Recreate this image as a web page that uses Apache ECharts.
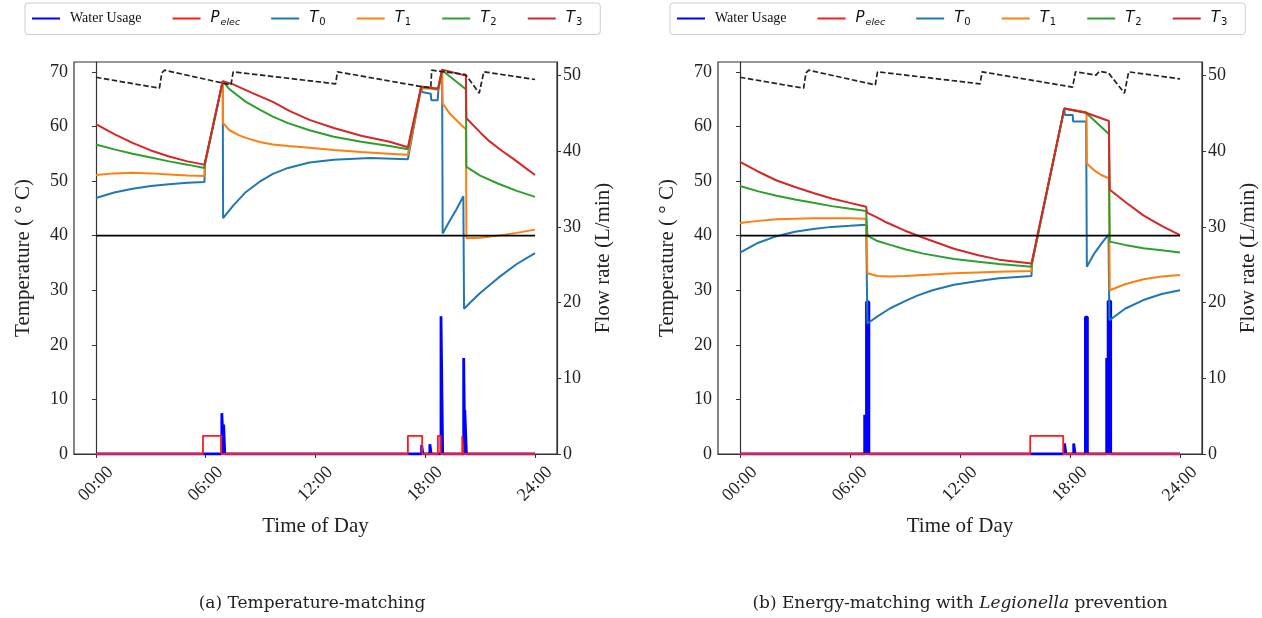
<!DOCTYPE html>
<html><head><meta charset="utf-8">
<script src="https://cdn.jsdelivr.net/npm/echarts@6/dist/echarts.min.js"></script>
<style>html,body{margin:0;padding:0;background:#fff}#c{width:1262px;height:618px}</style>
</head><body><div id="c"></div>
<script>
// ---------- tick definitions ----------
const hourTicks = [0, 6, 12, 18, 24];
const hourLabels = ['00:00', '06:00', '12:00', '18:00', '24:00'];
const tempTicks = [0, 10, 20, 30, 40, 50, 60, 70];
const flowTicks = [0, 10, 20, 30, 40, 50];
const legendNames = ['Water Usage', 'P_elec', 'T0', 'T1', 'T2', 'T3'];
const captions = ['(a) Temperature-matching', '(b) Energy-matching with {i|Legionella} prevention'];

// ---------- panel (a): Temperature-matching ----------
// [hour, °C]
const T0_a = [[0,46.9],[1,47.9],[2,48.6],[3,49.1],[4,49.4],[5,49.7],[5.93,49.8],[5.96,53.2],[6.93,68.3],[6.95,43.2],[7.5,45.5],[8.2,48.0],[9,50.0],[9.67,51.3],[10.5,52.4],[11.67,53.4],[13,53.9],[15,54.2],[17.05,54.0],[17.78,67.3],[17.82,66.3],[18.3,66.0],[18.33,64.8],[18.68,64.8],[18.72,66.8],[18.92,70.3],[18.95,40.4],[19.3,42.5],[19.7,44.8],[20.08,47.2],[20.12,26.6],[20.5,27.9],[21,29.5],[22,32.3],[23,34.8],[24,36.8]];
const T1_a = [[0,51.1],[1,51.4],[2,51.5],[3,51.4],[4,51.2],[5,51.0],[5.93,50.9],[5.96,53.2],[6.93,68.3],[6.95,60.6],[7.3,59.3],[7.8,58.4],[8.2,57.9],[9,57.1],[9.67,56.7],[10.5,56.4],[11.67,56.1],[13,55.7],[14.5,55.3],[16,55.0],[17.05,54.8],[17.78,67.0],[18.3,66.9],[18.7,66.7],[18.92,70.3],[18.95,64.2],[19.33,62.4],[19.8,60.8],[20.22,59.5],[20.25,39.5],[21,39.6],[22,40.0],[23,40.5],[24,41.1]];
const T2_a = [[0,56.7],[1,55.8],[2,55.0],[3,54.3],[4,53.6],[5,53.0],[5.93,52.4],[5.96,53.2],[6.93,68.3],[7.3,66.8],[8.2,64.5],[9,63.0],[9.67,61.8],[10.5,60.6],[11.67,59.3],[13,58.1],[14.5,57.2],[16.05,56.4],[17.05,55.8],[17.78,67.2],[18.7,66.9],[18.92,70.3],[20.22,66.8],[20.25,52.6],[21,51.0],[22,49.5],[23,48.2],[24,47.1]];
const T3_a = [[0,60.4],[1,58.6],[2,57.0],[3,55.6],[4,54.5],[5,53.6],[5.93,53.0],[6.93,68.3],[7.5,67.7],[8.5,66.2],[9.67,64.5],[10.6,62.8],[11.67,61.2],[13,59.7],[14.5,58.3],[16.05,57.2],[17.05,56.2],[17.78,67.3],[18.7,66.9],[18.92,70.4],[20.22,69.3],[20.25,61.5],[21,58.9],[21.5,57.3],[22.2,55.5],[22.8,54.1],[23.4,52.6],[24,51.1]];
const dash_a = [[0,69.0],[3.47,67.0],[3.6,69.8],[3.75,70.3],[7.38,67.6],[7.5,70.0],[7.6,70.3],[13.1,67.8],[13.2,70.0],[13.3,70.3],[17.78,67.3],[18.3,67.1],[18.35,70.3],[20.2,69.5],[20.95,66.1],[21.2,70.0],[21.3,70.3],[24,68.6]];
// water usage pulses [start hour, end hour, L/min]
const water_a = [[6.88,6.98,5.4],[6.98,7.04,3.9],[17.8,17.87,1.2],[18.25,18.32,1.3],[18.86,18.95,18.2],[20.1,20.16,12.7],[20.16,20.25,5.8]];
// electric heating pulses [start hour, end hour, level]
const pelec_a = [[5.85,6.85,2.4],[17.05,17.83,2.4],[18.69,18.84,2.4],[20.02,20.09,2.4]];

// ---------- panel (b): Energy-matching with Legionella prevention ----------
const T0_b = [[0,36.9],[1,38.7],[2,39.9],[3,40.7],[4,41.2],[5,41.6],[6,41.8],[6.88,42.0],[6.95,23.9],[7.5,25.2],[8.2,26.7],[9,28.0],[9.67,29.0],[10.5,30.0],[11.67,31.0],[13,31.7],[14.13,32.2],[15.9,32.6],[15.92,34.9],[17.69,63.3],[17.72,62.1],[18.15,62.1],[18.17,60.9],[18.88,60.9],[18.92,34.3],[19.3,36.6],[19.7,38.5],[20.1,40.2],[20.15,24.5],[21,26.6],[22,28.2],[23,29.3],[24,30.0]];
const T1_b = [[0,42.3],[1,42.7],[2,43.0],[3,43.1],[4,43.2],[6,43.2],[6.88,43.1],[6.95,33.1],[7.5,32.6],[8.2,32.5],[9,32.6],[10,32.8],[11.67,33.1],[14.13,33.4],[15.9,33.5],[15.92,34.9],[17.69,63.3],[18.9,62.6],[18.92,53.2],[19.3,52.0],[19.7,51.1],[20.12,50.5],[20.17,30.0],[21,31.1],[22,32.0],[23,32.5],[24,32.8]];
const T2_b = [[0,49.1],[1,48.1],[2,47.3],[3,46.6],[4,46.0],[5,45.4],[6,44.9],[6.88,44.5],[6.95,40.0],[7.5,39.0],[8.2,38.3],[9,37.5],[10,36.7],[11.67,35.7],[13,35.2],[14.13,34.8],[15.9,34.3],[15.92,34.9],[17.69,63.3],[18.87,62.5],[20.12,58.6],[20.17,38.9],[21,38.3],[22,37.7],[23,37.3],[24,36.9]];
const T3_b = [[0,53.5],[1,51.7],[2,50.1],[3,48.9],[4,47.8],[5,46.8],[6,46.0],[6.88,45.3],[6.93,44.2],[7.5,43.3],[8,42.4],[9,40.9],[10,39.6],[11.67,37.6],[13,36.4],[14.13,35.6],[15.9,34.9],[17.69,63.3],[18.87,62.5],[20.12,61.0],[20.17,48.4],[21,46.2],[22,43.7],[23,41.8],[24,40.1]];
const dash_b = [[0,69.0],[3.47,67.0],[3.6,69.8],[3.75,70.3],[7.38,67.6],[7.5,70.0],[7.6,70.3],[13.1,67.8],[13.2,70.0],[13.3,70.3],[18.14,67.2],[18.3,70.0],[18.35,70.2],[19.42,69.4],[19.6,70.1],[20.1,69.8],[20.97,66.1],[21.2,70.0],[21.3,70.3],[24,68.7]];
const water_b = [[6.8,6.9,5.2],[6.9,7.03,20.1],[17.7,17.78,1.4],[18.2,18.28,1.4],[18.84,18.95,18.1],[20.0,20.08,12.7],[20.08,20.22,20.2]];
const pelec_b = [[15.83,17.63,2.4]];

const threshold = 40; // °C reference line
const dayRange = [0, 24];

// ---------- helpers ----------
function pulses(list) {
  const pts = [[dayRange[0], 0]];
  list.forEach(p => { pts.push([p[0], 0], [p[0], p[2]], [p[1], p[2]], [p[1], 0]); });
  pts.push([dayRange[1], 0]);
  return pts;
}
const C = { water: '#0000ff', pelec: '#ff1a1a', t0: '#1f77b4', t1: '#ff7f0e', t2: '#2ca02c', t3: '#d62728' };
const serif = 'Liberation Serif';
function line(name, data, color, xi, yi, width, type) {
  return { type: 'line', name, data, xAxisIndex: xi, yAxisIndex: yi, showSymbol: false, symbol: 'none',
    lineStyle: { color, width, type: type || 'solid' }, itemStyle: { color }, silent: true, animation: false };
}
function panel(gi, d) {
  const yt = gi * 2, yf = gi * 2 + 1;
  return [
    line('Water Usage', pulses(d.water), C.water, gi, yf, 2.8),
    line('P_elec', pulses(d.pelec), C.pelec, gi, yf, 1.8),
    line('T0', d.T0, C.t0, gi, yt, 2),
    line('T1', d.T1, C.t1, gi, yt, 2),
    line('T2', d.T2, C.t2, gi, yt, 2),
    line('T3', d.T3, C.t3, gi, yt, 2),
    line('_dash' + gi, d.dash, '#222', gi, yt, 1.7, [5.5, 2.5]),
    line('_ref' + gi, [[dayRange[0], threshold], [dayRange[1], threshold]], '#000', gi, yt, 1.8)
  ];
}
function xAxis(gi) {
  return { gridIndex: gi, type: 'value', min: -1.2, max: 25.2,
    axisLine: { show: true, lineStyle: { color: '#333', width: 1.2 } }, splitLine: { show: false },
    axisTick: { customValues: hourTicks, length: 4, lineStyle: { color: '#333' } },
    axisLabel: { customValues: hourTicks, formatter: v => hourLabels[hourTicks.indexOf(v)], rotate: 45,
      align: 'center', verticalAlign: 'middle', margin: 30, fontFamily: serif, fontSize: 18, color: '#222' },
    name: 'Time of Day', nameLocation: 'middle', nameGap: 62,
    nameTextStyle: { fontFamily: serif, fontSize: 21, color: '#222' } };
}
function yAxis(gi, pos, max, ticks, name, gap) {
  return { gridIndex: gi, type: 'value', min: 0, max, position: pos,
    axisLine: { show: true, lineStyle: { color: '#333', width: 1.2 } }, splitLine: { show: false },
    axisTick: { customValues: ticks, length: 4, lineStyle: { color: '#333' } },
    axisLabel: { customValues: ticks, margin: 6, fontFamily: serif, fontSize: 18, color: '#222' },
    name, nameLocation: 'middle', nameRotate: 90, nameGap: gap,
    nameTextStyle: { fontFamily: serif, fontSize: 21, color: '#222' } };
}
function legendFmt(n) {
  if (n === 'P_elec') return '{m|P}{s|elec}';
  if (n[0] === 'T') return '{m|T}{n|' + n.slice(1) + '}';
  return n;
}
function legend(left) {
  return { left, top: 3, data: legendNames, formatter: legendFmt, selectedMode: false,
    icon: 'rect', itemWidth: 28, itemHeight: 2, itemGap: 31,
    borderColor: '#ccc', borderWidth: 1, borderRadius: 3, padding: [8, 18, 7, 7],
    textStyle: { fontFamily: serif, fontSize: 14, color: '#111', padding: [0, 0, 0, 5],
      rich: {
        m: { fontFamily: 'DejaVu Sans', fontStyle: 'italic', fontSize: 15, color: '#111' },
        s: { fontFamily: 'DejaVu Sans', fontStyle: 'italic', fontSize: 9.5, color: '#111', padding: [8, 0, 0, 1] },
        n: { fontFamily: 'DejaVu Sans', fontSize: 10, color: '#111', padding: [8, 0, 0, 1] }
      } } };
}

const option = {
  animation: false,
  backgroundColor: '#fff',
  grid: [
    { left: 74, top: 62, width: 483, height: 392, show: true, borderColor: '#333', borderWidth: 1.2, backgroundColor: 'transparent' },
    { left: 718, top: 62, width: 484, height: 392, show: true, borderColor: '#333', borderWidth: 1.2, backgroundColor: 'transparent' }
  ],
  legend: [legend(25), legend(670)],
  xAxis: [xAxis(0), xAxis(1)],
  yAxis: [
    yAxis(0, 'left', 71.8, tempTicks, 'Temperature ( ° C)', 40),
    yAxis(0, 'right', 51.8, flowTicks, 'Flow rate (L/min)', 36),
    yAxis(1, 'left', 71.8, tempTicks, 'Temperature ( ° C)', 40),
    yAxis(1, 'right', 51.8, flowTicks, 'Flow rate (L/min)', 36)
  ],
  series: [].concat(
    panel(0, { T0: T0_a, T1: T1_a, T2: T2_a, T3: T3_a, dash: dash_a, water: water_a, pelec: pelec_a }),
    panel(1, { T0: T0_b, T1: T1_b, T2: T2_b, T3: T3_b, dash: dash_b, water: water_b, pelec: pelec_b })
  ),
  graphic: [
    { type: 'text', x: 312, y: 604, style: { text: captions[0], fill: '#222', fontSize: 17, fontFamily: 'DejaVu Serif', align: 'center', verticalAlign: 'middle' } },
    { type: 'text', x: 960, y: 604, style: { text: captions[1], fill: '#222', fontSize: 17, fontFamily: 'DejaVu Serif', align: 'center', verticalAlign: 'middle',
      rich: { i: { fontStyle: 'italic', fontSize: 17, fontFamily: 'DejaVu Serif', fill: '#222' } } } }
  ]
};
const chart = echarts.init(document.getElementById('c'), null, { renderer: 'canvas' });
chart.setOption(option);
</script>
</body></html>
